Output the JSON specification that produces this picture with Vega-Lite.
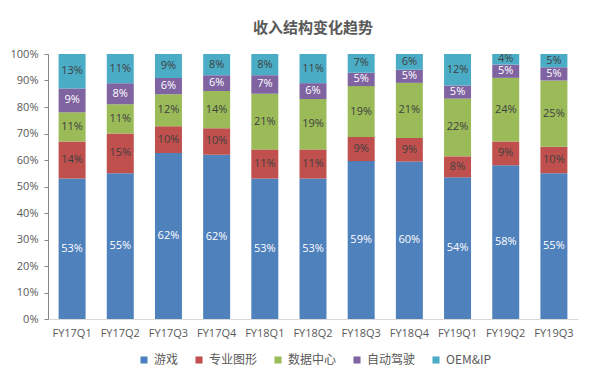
{
  "$schema": "https://vega.github.io/schema/vega-lite/v6.json",
  "autosize": {"type": "none"},
  "width": 530,
  "height": 265,
  "padding": {"left": 48, "top": 54, "right": 14, "bottom": 62},
  "background": "white",
  "title": {"text": "收入结构变化趋势", "font": "Noto Sans CJK SC", "fontSize": 15, "fontWeight": "bold", "color": "#595959", "anchor": "middle", "offset": 12},
  "config": {"view": {"stroke": null}, "font": "Noto Sans CJK SC"},
  "data": {"values": [
    {"q": "FY17Q1", "cat": "游戏", "k": 0, "v": 0.53}, {"q": "FY17Q1", "cat": "专业图形", "k": 1, "v": 0.14}, {"q": "FY17Q1", "cat": "数据中心", "k": 2, "v": 0.11}, {"q": "FY17Q1", "cat": "自动驾驶", "k": 3, "v": 0.09}, {"q": "FY17Q1", "cat": "OEM&IP", "k": 4, "v": 0.13},
    {"q": "FY17Q2", "cat": "游戏", "k": 0, "v": 0.55}, {"q": "FY17Q2", "cat": "专业图形", "k": 1, "v": 0.15}, {"q": "FY17Q2", "cat": "数据中心", "k": 2, "v": 0.11}, {"q": "FY17Q2", "cat": "自动驾驶", "k": 3, "v": 0.08}, {"q": "FY17Q2", "cat": "OEM&IP", "k": 4, "v": 0.11},
    {"q": "FY17Q3", "cat": "游戏", "k": 0, "v": 0.62}, {"q": "FY17Q3", "cat": "专业图形", "k": 1, "v": 0.10}, {"q": "FY17Q3", "cat": "数据中心", "k": 2, "v": 0.12}, {"q": "FY17Q3", "cat": "自动驾驶", "k": 3, "v": 0.06}, {"q": "FY17Q3", "cat": "OEM&IP", "k": 4, "v": 0.09},
    {"q": "FY17Q4", "cat": "游戏", "k": 0, "v": 0.62}, {"q": "FY17Q4", "cat": "专业图形", "k": 1, "v": 0.10}, {"q": "FY17Q4", "cat": "数据中心", "k": 2, "v": 0.14}, {"q": "FY17Q4", "cat": "自动驾驶", "k": 3, "v": 0.06}, {"q": "FY17Q4", "cat": "OEM&IP", "k": 4, "v": 0.08},
    {"q": "FY18Q1", "cat": "游戏", "k": 0, "v": 0.53}, {"q": "FY18Q1", "cat": "专业图形", "k": 1, "v": 0.11}, {"q": "FY18Q1", "cat": "数据中心", "k": 2, "v": 0.21}, {"q": "FY18Q1", "cat": "自动驾驶", "k": 3, "v": 0.07}, {"q": "FY18Q1", "cat": "OEM&IP", "k": 4, "v": 0.08},
    {"q": "FY18Q2", "cat": "游戏", "k": 0, "v": 0.53}, {"q": "FY18Q2", "cat": "专业图形", "k": 1, "v": 0.11}, {"q": "FY18Q2", "cat": "数据中心", "k": 2, "v": 0.19}, {"q": "FY18Q2", "cat": "自动驾驶", "k": 3, "v": 0.06}, {"q": "FY18Q2", "cat": "OEM&IP", "k": 4, "v": 0.11},
    {"q": "FY18Q3", "cat": "游戏", "k": 0, "v": 0.59}, {"q": "FY18Q3", "cat": "专业图形", "k": 1, "v": 0.09}, {"q": "FY18Q3", "cat": "数据中心", "k": 2, "v": 0.19}, {"q": "FY18Q3", "cat": "自动驾驶", "k": 3, "v": 0.05}, {"q": "FY18Q3", "cat": "OEM&IP", "k": 4, "v": 0.07},
    {"q": "FY18Q4", "cat": "游戏", "k": 0, "v": 0.60}, {"q": "FY18Q4", "cat": "专业图形", "k": 1, "v": 0.09}, {"q": "FY18Q4", "cat": "数据中心", "k": 2, "v": 0.21}, {"q": "FY18Q4", "cat": "自动驾驶", "k": 3, "v": 0.05}, {"q": "FY18Q4", "cat": "OEM&IP", "k": 4, "v": 0.06},
    {"q": "FY19Q1", "cat": "游戏", "k": 0, "v": 0.54}, {"q": "FY19Q1", "cat": "专业图形", "k": 1, "v": 0.08}, {"q": "FY19Q1", "cat": "数据中心", "k": 2, "v": 0.22}, {"q": "FY19Q1", "cat": "自动驾驶", "k": 3, "v": 0.05}, {"q": "FY19Q1", "cat": "OEM&IP", "k": 4, "v": 0.12},
    {"q": "FY19Q2", "cat": "游戏", "k": 0, "v": 0.58}, {"q": "FY19Q2", "cat": "专业图形", "k": 1, "v": 0.09}, {"q": "FY19Q2", "cat": "数据中心", "k": 2, "v": 0.24}, {"q": "FY19Q2", "cat": "自动驾驶", "k": 3, "v": 0.05}, {"q": "FY19Q2", "cat": "OEM&IP", "k": 4, "v": 0.04},
    {"q": "FY19Q3", "cat": "游戏", "k": 0, "v": 0.55}, {"q": "FY19Q3", "cat": "专业图形", "k": 1, "v": 0.10}, {"q": "FY19Q3", "cat": "数据中心", "k": 2, "v": 0.25}, {"q": "FY19Q3", "cat": "自动驾驶", "k": 3, "v": 0.05}, {"q": "FY19Q3", "cat": "OEM&IP", "k": 4, "v": 0.05}
  ]},
  "transform": [
    {"stack": "v", "groupby": ["q"], "sort": [{"field": "k", "order": "ascending"}], "offset": "normalize", "as": ["y0", "y1"]},
    {"calculate": "(datum.y0 + datum.y1) / 2", "as": "ymid"}
  ],
  "encoding": {
    "x": {"field": "q", "type": "nominal", "sort": null, "title": null,
      "scale": {"paddingInner": 0.44, "paddingOuter": 0.22},
      "axis": {"labelAngle": 0, "labelColor": "#595959", "labelFontSize": 11, "labelFont": "Open Sans", "ticks": false, "domainColor": "#D9D9D9", "labelPadding": 8}}
  },
  "layer": [
    {
      "mark": {"type": "bar"},
      "encoding": {
        "y": {"field": "y0", "type": "quantitative", "title": null,
          "scale": {"domain": [0, 1], "nice": false},
          "axis": {"format": ".0%", "values": [0, 0.1, 0.2, 0.3, 0.4, 0.5, 0.6, 0.7, 0.8, 0.9, 1], "grid": false, "labelOverlap": false, "labelFlush": false, "labelColor": "#595959", "labelFontSize": 11, "labelFont": "Open Sans", "domainColor": "#868686", "tickColor": "#868686", "tickSize": 4, "labelPadding": 6}},
        "y2": {"field": "y1"},
        "color": {"field": "cat", "type": "nominal", "title": null,
          "scale": {"domain": ["游戏", "专业图形", "数据中心", "自动驾驶", "OEM&IP"], "range": ["#4F81BD", "#C0504D", "#9BBB59", "#8064A2", "#4BACC6"]},
          "legend": {"orient": "none", "legendX": 90, "legendY": 300, "direction": "horizontal", "symbolType": "square", "symbolSize": 50, "labelFontSize": 12, "labelColor": "#595959", "columnPadding": 14, "symbolStrokeWidth": 0}}
      }
    },
    {
      "mark": {"type": "text", "fontSize": 11, "font": "Open Sans"},
      "encoding": {
        "y": {"field": "ymid", "type": "quantitative", "title": null,
          "scale": {"domain": [0, 1], "nice": false},
          "axis": {"format": ".0%", "values": [0, 0.1, 0.2, 0.3, 0.4, 0.5, 0.6, 0.7, 0.8, 0.9, 1], "grid": false, "labelOverlap": false, "labelFlush": false, "labelColor": "#595959", "labelFontSize": 11, "labelFont": "Open Sans", "domainColor": "#868686", "tickColor": "#868686", "tickSize": 4, "labelPadding": 6}},
        "text": {"field": "v", "type": "quantitative", "format": ".0%"},
        "color": {"condition": {"test": "datum.cat === '游戏' || datum.cat === '自动驾驶'", "value": "white"}, "value": "#404040"}
      }
    }
  ]
}
